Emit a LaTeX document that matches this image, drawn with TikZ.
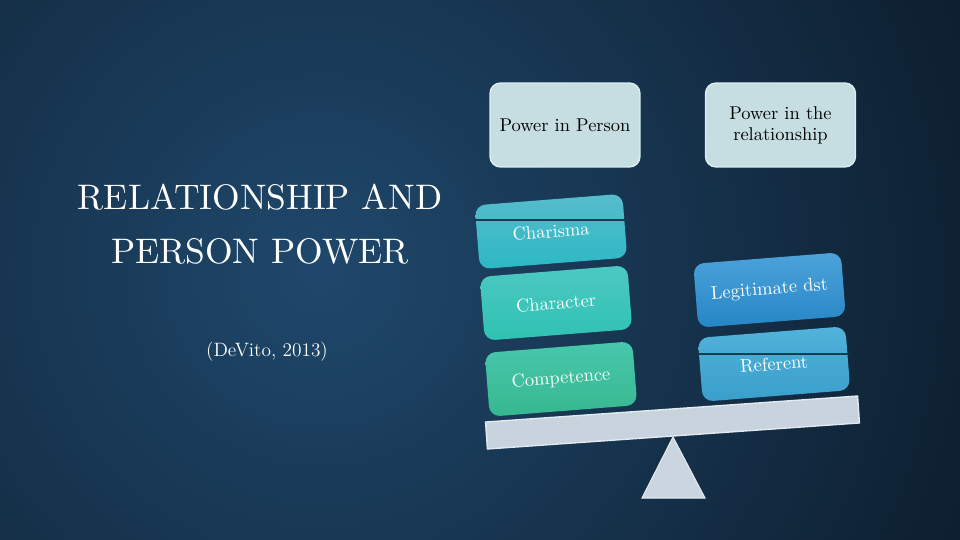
\documentclass[tikz,border=0pt]{standalone}
\usepackage{fontspec}
\usetikzlibrary{calc}
\newfontfamily\titlefont{lmroman10-regular.otf}
\definecolor{bgdark}{HTML}{08121D}
\definecolor{bglight}{HTML}{1F486C}
\definecolor{topfill}{HTML}{C6DEE1}
\definecolor{topedge}{HTML}{DCEEF0}
\definecolor{chaT}{HTML}{58BCCB}
\definecolor{chaB}{HTML}{2CB8C4}
\definecolor{chrT}{HTML}{4DC8C2}
\definecolor{chrB}{HTML}{2FC2B3}
\definecolor{comT}{HTML}{48C8AC}
\definecolor{comB}{HTML}{37B78F}
\definecolor{legT}{HTML}{4DA3DA}
\definecolor{legB}{HTML}{2686C6}
\definecolor{refT}{HTML}{52B2DA}
\definecolor{refB}{HTML}{399FCB}
\definecolor{beamfill}{HTML}{C8D3DD}
\definecolor{beamedge}{HTML}{E2EAF1}
\definecolor{divline}{HTML}{163A50}
\begin{document}
\begin{tikzpicture}[x=0.02cm,y=-0.02cm,
  topbox/.style={draw=topedge, line width=0.8pt, rounded corners=6pt,
    fill=topfill, minimum width=3cm, minimum height=1.68cm, align=center,
    text=black, font=\fontsize{10.5}{12}\selectfont, inner sep=2pt},
  pbox/.style={rounded corners=6pt, minimum width=2.96cm, minimum height=1.28cm,
    rotate=4.5, text=white, font=\fontsize{10.5}{12}\selectfont, inner sep=2pt},
  beamstyle/.style={draw=beamedge, line width=0.8pt, fill=beamfill,
    minimum width=7.46cm, minimum height=0.54cm, inner sep=0pt, rotate=4},
  divider/.style={draw=divline, line width=0.8pt},
  title/.style={text=white, font=\titlefont\fontsize{20.2}{26}\selectfont, align=center}]
\begin{scope}
  \clip (0,0) rectangle (960,540);
  \fill[bgdark] (0,0) rectangle (960,540);
  \shade[inner color=bglight, outer color=bgdark] (320,270) circle (900);
\end{scope}
\useasboundingbox (0,0) rectangle (960,540);

% title
\node[title] (t1) at (260,197) {RELATIONSHIP AND};
\node[title] (t2) at (260,251) {PERSON POWER};
\node[text=white, font=\fontsize{11}{13}\selectfont] (cite) at (267,352) {(DeVito, 2013)};

% header boxes
\node[topbox] (hp) at (565,125) {Power in Person};
\node[topbox] (hr) at (780.5,125) {Power in the\\relationship};

% seesaw base
\coordinate (apex) at (673,437);
\coordinate (bl) at (642,498);
\coordinate (br) at (705,498);
\fill[beamfill!95!white, draw=beamedge, line width=0.6pt] (apex) -- (bl) -- (br) -- cycle;
\node[beamstyle] (beam) at (672.5,422.5) {};

% left stack
\node[pbox, top color=chaT, bottom color=chaB] (cha) at (551,231.5) {Charisma};
\draw[divider] (474,220) -- (626,220);
\node[pbox, top color=chrT, bottom color=chrB] (chr) at (556,303) {Character};
\node[pbox, top color=comT, bottom color=comB] (com) at (561,379) {Competence};

% right stack
\node[pbox, top color=legT, bottom color=legB] (leg) at (769.5,290) {Legitimate dst};
\node[pbox, top color=refT, bottom color=refB] (ref) at (774,364) {Referent};
\draw[divider] (699,354) -- (849,354);
\end{tikzpicture}
\end{document}
